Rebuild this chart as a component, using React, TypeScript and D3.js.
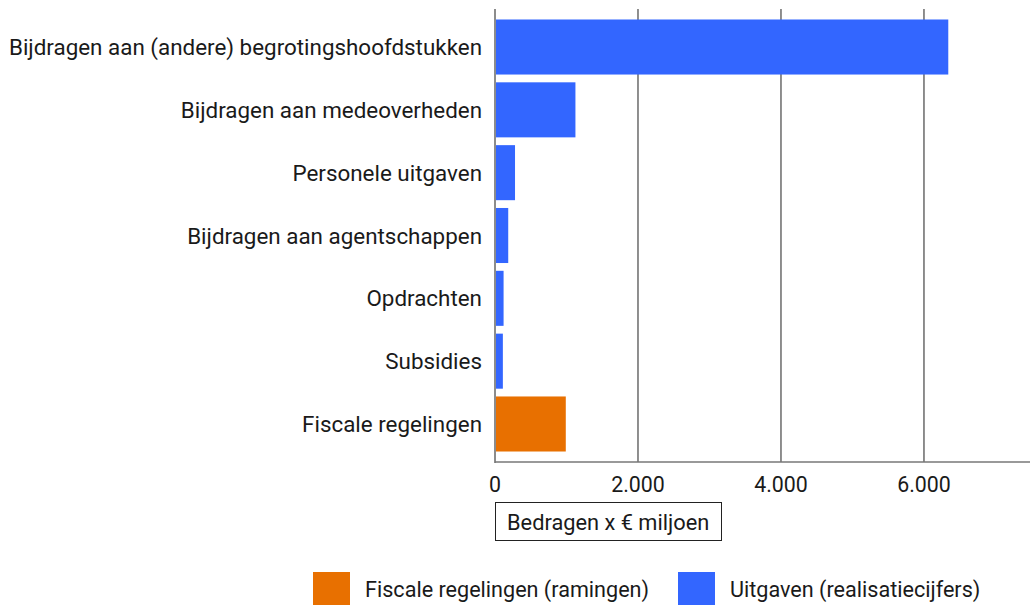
import React from "react";
import * as d3 from "d3";

const categories = [
  "Bijdragen aan (andere) begrotingshoofdstukken",
  "Bijdragen aan medeoverheden",
  "Personele uitgaven",
  "Bijdragen aan agentschappen",
  "Opdrachten",
  "Subsidies",
  "Fiscale regelingen",
];
const values = [6340, 1125, 280, 185, 120, 110, 990];
const seriesOf = ["u", "u", "u", "u", "u", "u", "f"];
const xTicks = [0, 2000, 4000, 6000];
const legendItems = [
  { key: "f", label: "Fiscale regelingen (ramingen)" },
  { key: "u", label: "Uitgaven (realisatiecijfers)" },
];
const colors: Record<string, string> = { u: "#3366ff", f: "#e87000" };

const W = 1030;
const H = 605;
const FONT = "Roboto, 'Noto Sans', sans-serif";

export default function App() {
  const left = 495;
  const right = 1030;
  const top = 9;
  const bottom = 462;
  const x = d3.scaleLinear().domain([0, 7483]).range([left, right]);
  const y = d3
    .scaleBand<string>()
    .domain(categories)
    .range([top, bottom])
    .paddingInner(0.124)
    .paddingOuter(0.167);
  const fmt = (v: number) => d3.format(",")(v).replace(/,/g, ".");

  return (
    <div style={{ position: "absolute", left: 0, top: 0 }}>
      <svg width={W} height={H} style={{ display: "block", fontFamily: FONT }}>
        <rect width={W} height={H} fill="#fff" />
        {xTicks.slice(1).map((t) => (
          <line key={t} x1={x(t)} x2={x(t)} y1={top} y2={bottom} stroke="#444" strokeWidth={1.2} />
        ))}
        {categories.map((c, i) => (
          <rect
            key={c}
            x={x(0) + 1}
            y={y(c)}
            width={x(values[i]) - x(0) - 1}
            height={y.bandwidth()}
            fill={colors[seriesOf[i]]}
          />
        ))}
        <line x1={left} x2={left} y1={top} y2={bottom + 1} stroke="#666" strokeWidth={1.5} />
        <line x1={left} x2={right} y1={bottom} y2={bottom} stroke="#777" strokeWidth={1.5} />
        {categories.map((c) => (
          <text
            key={c}
            x={482}
            y={(y(c) as number) + y.bandwidth() / 2}
            textAnchor="end"
            dominantBaseline="central"
            fontSize={22.4}
            fill="#1a1a1a"
          >
            {c}
          </text>
        ))}
        {xTicks.map((t) => (
          <text key={t} x={x(t)} y={484} textAnchor="middle" dominantBaseline="central" fontSize={21.33} fill="#1a1a1a">
            {fmt(t)}
          </text>
        ))}
        <rect x={495.5} y={502.5} width={226} height={38} fill="#fff" stroke="#222" strokeWidth={1} />
        <text x={507} y={522} dominantBaseline="central" fontSize={21.8} fill="#1a1a1a">
          Bedragen x € miljoen
        </text>
        {legendItems.map((it, i) => {
          const lx = i === 0 ? 313 : 678;
          return (
            <g key={it.key}>
              <rect x={lx} y={572} width={37} height={33} fill={colors[it.key]} />
              <text x={lx + 52} y={589} dominantBaseline="central" fontSize={21.6} fill="#1a1a1a">
                {it.label}
              </text>
            </g>
          );
        })}
      </svg>
    </div>
  );
}
